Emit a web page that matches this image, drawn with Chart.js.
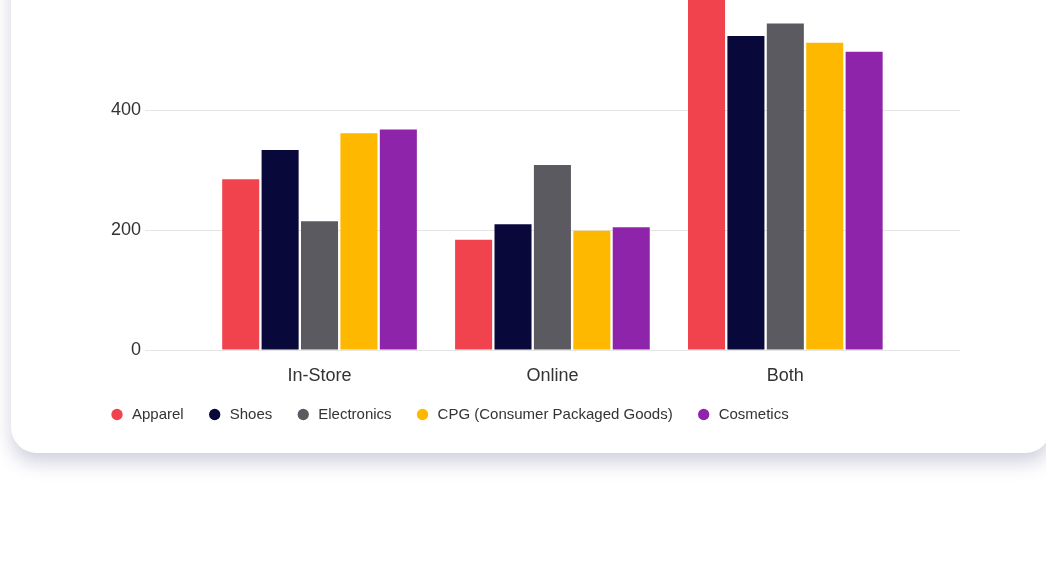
<!DOCTYPE html>
<html>
<head>
<meta charset="utf-8">
<script src="https://cdn.jsdelivr.net/npm/chart.js@4/dist/chart.umd.min.js"></script>
<style>
    html, body {
        margin: 0;
        padding: 0;
        background: #ffffff;
        width: 1046px;
        height: 573px;
        overflow: hidden;
        position: relative;
    }
    .card {
        position: absolute;
        left: 11px;
        top: -200px;
        width: 1040px;
        height: 653px;
        background: #ffffff;
        border-radius: 26px;
        box-shadow: 0 10px 18px rgba(90, 90, 140, 0.27);
    }
    .chart-box {
        position: absolute;
        left: 86px;
        top: -144px;
        width: 874px;
        height: 576px;
    }
</style>
</head>
<body>
<div class="card"></div>
<div class="chart-box">
    <canvas id="channelChart"></canvas>
</div>

<script>
// Sales by channel and product category
const channels = ['In-Store', 'Online', 'Both'];
const apparel = [285, 184, 640];
const shoes = [334, 210, 524];
const electronics = [215, 309, 545];
const cpg = [362, 199, 513];
const cosmetics = [368, 205, 498];

const seriesNames = ['Apparel', 'Shoes', 'Electronics', 'CPG (Consumer Packaged Goods)', 'Cosmetics'];
const seriesColors = ['#F0434E', '#08083A', '#5B5A60', '#FFB800', '#8E24AA'];
const seriesValues = [apparel, shoes, electronics, cpg, cosmetics];

const fontFamily = "'Liberation Sans', Arial, Helvetica, sans-serif";

document.addEventListener('DOMContentLoaded', function() {
    const ctx = document.getElementById('channelChart');

    // one dataset per product category, x is the channel index
    const datasets = seriesNames.map(function(name, s) {
        return {
            label: name,
            data: seriesValues[s].map(function(v, i) {
                return { x: i, y: v };
            }),
            backgroundColor: seriesColors[s],
            borderWidth: 0,
            categoryPercentage: 0.846,
            barPercentage: 0.94
        };
    });

    new Chart(ctx, {
        type: 'bar',
        data: { datasets: datasets },
        options: {
            responsive: true,
            maintainAspectRatio: false,
            animation: false,
            layout: { padding: 0 },
            scales: {
                x: {
                    type: 'linear',
                    offset: false,
                    min: -0.715,
                    max: 2.75,
                    grid: { display: false, drawTicks: false },
                    border: { display: false },
                    ticks: {
                        stepSize: 1,
                        includeBounds: false,
                        padding: 15,
                        color: '#333',
                        font: { family: fontFamily, size: 18 },
                        callback: function(value) {
                            return channels[value] !== undefined ? channels[value] : '';
                        }
                    },
                    afterFit: function(axis) {
                        axis.height = 33.5;
                    }
                },
                y: {
                    beginAtZero: true,
                    grid: { color: 'rgba(0,0,0,0.1)', tickLength: 8 },
                    border: { display: false },
                    ticks: {
                        stepSize: 200,
                        padding: 4,
                        color: '#333',
                        font: { family: fontFamily, size: 18 }
                    },
                    afterFit: function(axis) {
                        axis.width = 67;
                    }
                }
            },
            plugins: {
                legend: {
                    position: 'bottom',
                    align: 'start',
                    labels: {
                        usePointStyle: true,
                        pointStyle: 'circle',
                        boxWidth: 15,
                        boxHeight: 8,
                        padding: 23.5,
                        color: '#333',
                        font: { family: fontFamily, size: 15 }
                    }
                },
                tooltip: { enabled: false }
            }
        }
    });
});
</script>
</body>
</html>
